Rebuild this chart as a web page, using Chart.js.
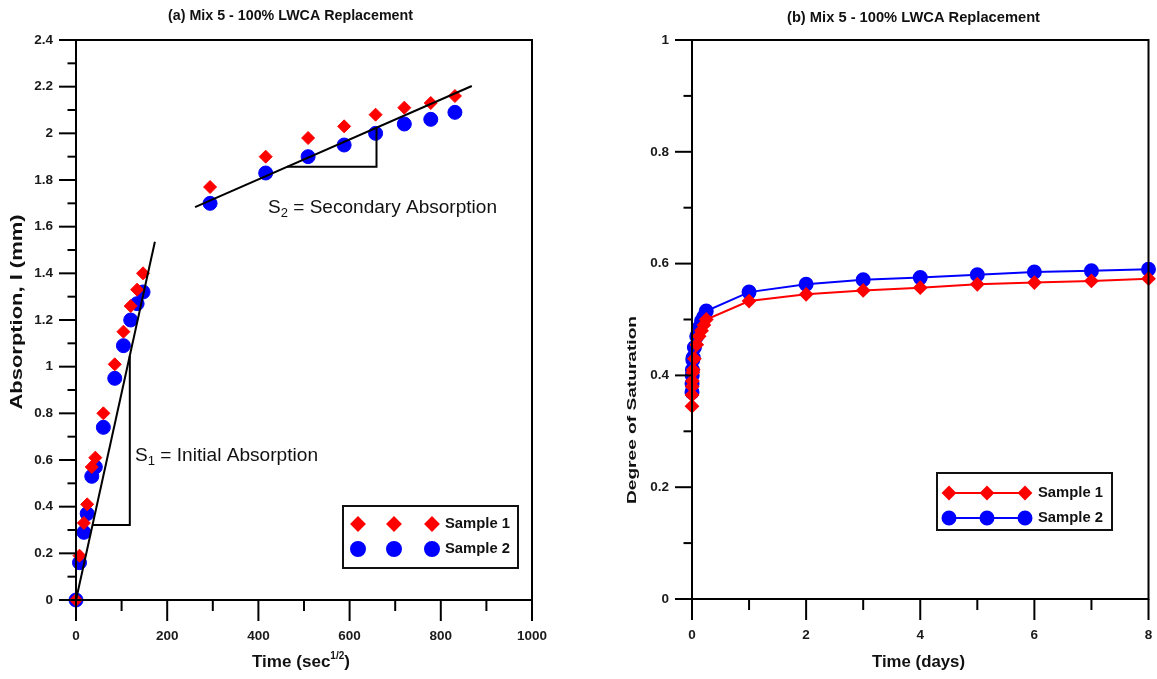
<!DOCTYPE html>
<html>
<head>
<meta charset="utf-8">
<script src="https://cdn.jsdelivr.net/npm/chart.js@4.4.1/dist/chart.umd.min.js"></script>
<style>
  html, body { margin: 0; padding: 0; background: #fff; }
  #wrap { position: relative; width: 1157px; height: 679px; overflow: hidden; }
  #left { position: absolute; left: 0; top: 0; }
  #right { position: absolute; left: 580px; top: 0; }
</style>
</head>
<body>
<div id="wrap">
  <canvas id="left" width="580" height="679"></canvas>
  <canvas id="right" width="577" height="679"></canvas>
</div>
<script>
// (a) absorption vs sqrt(time)
const sqrtTime = [0, 7.7, 17.3, 24.5, 34.6, 42.4, 60, 85, 104, 120, 134, 147, 294, 416, 509, 588, 657, 720, 778, 831];
const absorption1 = [0, 0.19, 0.33, 0.41, 0.57, 0.61, 0.80, 1.01, 1.15, 1.26, 1.33, 1.40, 1.77, 1.90, 1.98, 2.03, 2.08, 2.11, 2.13, 2.16];
const absorption2 = [0, 0.16, 0.29, 0.37, 0.53, 0.57, 0.74, 0.95, 1.09, 1.20, 1.27, 1.32, 1.70, 1.83, 1.90, 1.95, 2.00, 2.04, 2.06, 2.09];

// slope guides drawn on (a)
const s1Line = [[0, 0], [173, 1.535]];
const s1Step = [[36, 0.321], [118, 0.321], [118, 1.047]];
const s2Line = [[261, 1.684], [868, 2.203]];
const s2Step = [[463, 1.857], [659, 1.857], [659, 2.024]];

// (b) degree of saturation vs days
const days = [0, 0.0007, 0.0035, 0.007, 0.014, 0.021, 0.042, 0.083, 0.125, 0.167, 0.208, 0.25, 1, 2, 3, 4, 5, 6, 7, 8];
const saturation1 = [0.345, 0.365, 0.38, 0.39, 0.405, 0.41, 0.43, 0.455, 0.47, 0.48, 0.49, 0.50, 0.533, 0.545, 0.552, 0.557, 0.563, 0.566, 0.569, 0.573];
const saturation2 = [0.37, 0.385, 0.40, 0.41, 0.428, 0.432, 0.45, 0.47, 0.485, 0.497, 0.505, 0.515, 0.549, 0.563, 0.571, 0.575, 0.58, 0.585, 0.587, 0.59];

const seriesNames = ['Sample 1', 'Sample 2'];
const titleA = '(a) Mix 5 - 100% LWCA Replacement';
const titleB = '(b) Mix 5 - 100% LWCA Replacement';

const FONT = '"Liberation Sans", Arial, sans-serif';
const RED = '#ff0000';
const BLUE = '#0000ff';

const toPts = (xs, ys) => xs.map((x, i) => ({ x: x, y: ys[i] }));
const pairPts = arr => arr.map(p => ({ x: p[0], y: p[1] }));

// text drawn centred at (x, y), squeezed/stretched to a given width
function drawRich(ctx, parts, x, y, width, rotate) {
  ctx.save();
  let total = 0;
  parts.forEach(p => { ctx.font = p.font; p.w = ctx.measureText(p.t).width; total += p.w; });
  ctx.translate(x, y);
  if (rotate) ctx.rotate(-Math.PI / 2);
  ctx.scale(width / total, 1);
  ctx.textBaseline = 'middle';
  ctx.textAlign = 'left';
  ctx.fillStyle = '#111';
  let cx = -total / 2;
  parts.forEach(p => { ctx.font = p.font; ctx.fillText(p.t, cx, p.dy || 0); cx += p.w; });
  ctx.restore();
}

function marker(ctx, style, x, y, r) {
  Chart.helpers.drawPoint(ctx, { pointStyle: style, radius: r, borderWidth: 1 }, x, y);
}

// frame + major/minor tick marks, drawn from the scales
const frameTicks = {
  id: 'frameTicks',
  afterDraw(chart, args, o) {
    const ctx = chart.ctx, a = chart.chartArea;
    const sx = chart.scales.x, sy = chart.scales.y;
    ctx.save();
    ctx.strokeStyle = '#000';
    ctx.lineWidth = 2;
    ctx.strokeRect(a.left, a.top, a.right - a.left, a.bottom - a.top);
    const isMajor = (v, step) => Math.abs(v / step - Math.round(v / step)) < 1e-6;
    for (let i = 0; sx.min + i * o.xMinor <= sx.max + 1e-9; i++) {
      const v = sx.min + i * o.xMinor, p = sx.getPixelForValue(v);
      ctx.beginPath();
      ctx.moveTo(p, a.bottom);
      ctx.lineTo(p, a.bottom + (isMajor(v, o.xMajor) ? 21 : 11));
      ctx.stroke();
    }
    for (let i = 0; sy.min + i * o.yMinor <= sy.max + 1e-9; i++) {
      const v = sy.min + i * o.yMinor, p = sy.getPixelForValue(v);
      ctx.beginPath();
      ctx.moveTo(a.left, p);
      ctx.lineTo(a.left - (isMajor(v, o.yMajor) ? 17 : 8.5), p);
      ctx.stroke();
    }
    ctx.restore();
  }
};

// titles, axis titles, notes and legend box
const decor = {
  id: 'decor',
  afterDraw(chart, args, o) {
    const ctx = chart.ctx;
    o.texts.forEach(t => drawRich(ctx, t.parts, t.x, t.y, t.w, t.rotate));
    const L = o.legend;
    ctx.save();
    ctx.strokeStyle = '#111';
    ctx.lineWidth = 2;
    ctx.strokeRect(L.x, L.y, L.w, L.h);
    L.rows.forEach((row, i) => {
      const ds = chart.data.datasets[row.ds];
      const yy = L.rowY[i];
      if (L.lines) {
        ctx.strokeStyle = ds.borderColor;
        ctx.lineWidth = 2;
        ctx.beginPath();
        ctx.moveTo(L.mx[0], yy);
        ctx.lineTo(L.mx[2], yy);
        ctx.stroke();
      }
      ctx.fillStyle = ds.backgroundColor;
      ctx.strokeStyle = ds.borderColor;
      L.mx.forEach(mx => marker(ctx, ds.pointStyle, mx, yy, row.r));
      drawRich(ctx, [{ t: seriesNames[i], font: 'bold 14px ' + FONT }], L.tx + L.tw / 2, yy, L.tw);
    });
    ctx.restore();
  }
};

const tickFont = { family: FONT, size: 13.5, weight: 'bold' };
const numLabel = v => String(Math.round(v * 1000) / 1000);
// invisible grid that only reserves the label offset
const hiddenGrid = len => ({ display: true, drawOnChartArea: false, drawTicks: true, tickLength: len, color: 'rgba(0,0,0,0)' });

function axes(xmin, xmax, xstep, ymin, ymax, ystep, xh, yw) {
  return {
    x: {
      type: 'linear', min: xmin, max: xmax,
      grid: hiddenGrid(28),
      border: { display: false },
      ticks: { stepSize: xstep, padding: 0, font: tickFont, color: '#1a1a1a', callback: numLabel, maxRotation: 0, autoSkip: false },
      afterFit: s => { s.height = xh; }
    },
    y: {
      type: 'linear', min: ymin, max: ymax,
      grid: hiddenGrid(23),
      border: { display: false },
      ticks: { stepSize: ystep, padding: 0, font: tickFont, color: '#1a1a1a', callback: numLabel, autoSkip: false },
      afterFit: s => { s.width = yw; }
    }
  };
}

const guide = pts => ({ data: pairPts(pts), showLine: true, borderColor: '#000', borderWidth: 2, pointRadius: 0, clip: false });

new Chart(document.getElementById('left'), {
  type: 'scatter',
  data: {
    datasets: [
      guide(s1Line), guide(s1Step), guide(s2Line), guide(s2Step),
      { label: seriesNames[0], data: toPts(sqrtTime, absorption1), pointStyle: 'rectRot', pointRadius: 6.5, backgroundColor: RED, borderColor: RED, borderWidth: 1, clip: false },
      { label: seriesNames[1], data: toPts(sqrtTime, absorption2), pointStyle: 'circle', pointRadius: 7, backgroundColor: BLUE, borderColor: BLUE, borderWidth: 1, clip: false }
    ]
  },
  options: {
    responsive: false,
    animation: false,
    devicePixelRatio: 1,
    layout: { padding: { top: 40, right: 48, bottom: 0, left: 0 } },
    scales: axes(0, 1000, 200, 0, 2.4, 0.2, 79, 76),
    plugins: {
      legend: { display: false },
      tooltip: { enabled: false },
      frameTicks: { xMajor: 200, xMinor: 100, yMajor: 0.2, yMinor: 0.1 },
      decor: {
        texts: [
          { parts: [{ t: titleA, font: 'bold 15px ' + FONT }], x: 290.5, y: 16, w: 245 },
          { parts: [{ t: 'Absorption, I (mm)', font: 'bold 17px ' + FONT }], x: 17, y: 312, w: 195, rotate: true },
          { parts: [{ t: 'Time (sec', font: 'bold 17px ' + FONT }, { t: '1/2', font: 'bold 10px ' + FONT, dy: -6 }, { t: ')', font: 'bold 17px ' + FONT }], x: 301, y: 662, w: 98 },
          { parts: [{ t: 'S', font: '19px ' + FONT }, { t: '1', font: '13px ' + FONT, dy: 5 }, { t: ' = Initial Absorption', font: '19px ' + FONT }], x: 226.5, y: 456, w: 183 },
          { parts: [{ t: 'S', font: '19px ' + FONT }, { t: '2', font: '13px ' + FONT, dy: 5 }, { t: ' = Secondary Absorption', font: '19px ' + FONT }], x: 382.5, y: 208, w: 229 }
        ],
        legend: {
          x: 343, y: 506, w: 175, h: 62, lines: false,
          mx: [358, 394, 432], rowY: [524, 549], tx: 445, tw: 65,
          rows: [{ ds: 4, r: 6.5 }, { ds: 5, r: 7 }]
        }
      }
    }
  },
  plugins: [frameTicks, decor]
});

new Chart(document.getElementById('right'), {
  type: 'scatter',
  data: {
    datasets: [
      { label: seriesNames[0], data: toPts(days, saturation1), showLine: true, pointStyle: 'rectRot', pointRadius: 6, backgroundColor: RED, borderColor: RED, borderWidth: 2, clip: false },
      { label: seriesNames[1], data: toPts(days, saturation2), showLine: true, pointStyle: 'circle', pointRadius: 6.5, backgroundColor: BLUE, borderColor: BLUE, borderWidth: 2, clip: false }
    ]
  },
  options: {
    responsive: false,
    animation: false,
    devicePixelRatio: 1,
    layout: { padding: { top: 40, right: 8, bottom: 0, left: 0 } },
    scales: axes(0, 8, 2, 0, 1, 0.2, 80, 112),
    plugins: {
      legend: { display: false },
      tooltip: { enabled: false },
      frameTicks: { xMajor: 2, xMinor: 1, yMajor: 0.2, yMinor: 0.1 },
      decor: {
        texts: [
          { parts: [{ t: titleB, font: 'bold 15px ' + FONT }], x: 333.5, y: 18, w: 253 },
          { parts: [{ t: 'Degree of Saturation', font: 'bold 13px ' + FONT }], x: 52, y: 410, w: 188, rotate: true },
          { parts: [{ t: 'Time (days)', font: 'bold 17px ' + FONT }], x: 338.5, y: 662, w: 93 }
        ],
        legend: {
          x: 357, y: 473, w: 175, h: 57, lines: true,
          mx: [369, 407, 445], rowY: [493, 518], tx: 458, tw: 65,
          rows: [{ ds: 0, r: 6 }, { ds: 1, r: 6.5 }]
        }
      }
    }
  },
  plugins: [frameTicks, decor]
});
</script>
</body>
</html>
